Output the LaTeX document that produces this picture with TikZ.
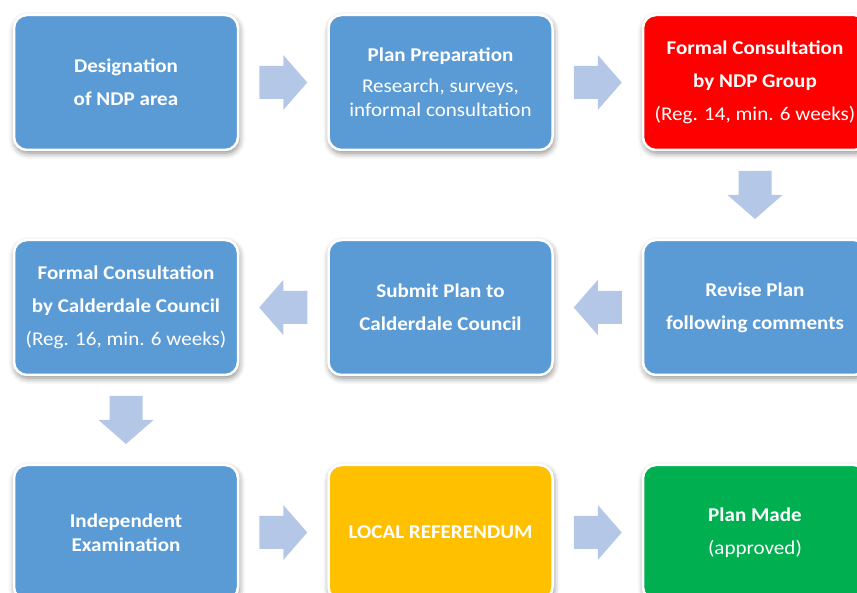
\documentclass[tikz,border=0pt]{standalone}
\usepackage{fontspec}
\setmainfont{Carlito}[FakeStretch=1.08]
\usetikzlibrary{calc,shadows.blur}
\definecolor{stageblue}{HTML}{5B9BD5}
\definecolor{stagered}{HTML}{FF0000}
\definecolor{stagegold}{HTML}{FFC000}
\definecolor{stagegreen}{HTML}{00B050}
\definecolor{arrowblue}{HTML}{B4C7E7}
\tikzset{stage/.style={rectangle, rounded corners=13pt, draw=white, line width=2.5pt,
    fill=stageblue, text=white, minimum width=224pt, minimum height=135pt, align=center,
    font=\fontsize{19.5}{24}\selectfont\bfseries,
    blur shadow={shadow xshift=1pt, shadow yshift=-3pt, shadow blur radius=6pt, shadow opacity=50}}}
\tikzset{flowarrow/.pic={
    \fill[arrowblue] (-24pt,-16.5pt) -- (0pt,-16.5pt) -- (0pt,-27.5pt) -- (24pt,0pt)
      -- (0pt,27.5pt) -- (0pt,16.5pt) -- (-24pt,16.5pt) -- cycle;}}

\begin{document}
\begin{tikzpicture}
\useasboundingbox (0,0) rectangle (857pt,593pt);
% first row
\node[stage] (S1) at (126pt,510.5pt) {Designation\\[9pt]of NDP area};
\node[stage] (S2) at (440.5pt,510.5pt) {Plan Preparation\\[7pt]\mdseries Research, surveys,\\\mdseries informal consultation};
\node[stage, fill=stagered] (S3) at (755pt,510.5pt) {Formal Consultation\\[9pt]by NDP Group\\[9pt]\mdseries (Reg. 14, min. 6 weeks)};
% second row
\node[stage] (S4) at (755pt,285.5pt) {Revise Plan\\[9pt]following comments};
\node[stage] (S5) at (440.5pt,285.5pt) {Submit Plan to\\[9pt]Calderdale Council};
\node[stage] (S6) at (126pt,285.5pt) {Formal Consultation\\[9pt]by Calderdale Council\\[9pt]\mdseries (Reg. 16, min. 6 weeks)};
% third row
\node[stage] (S7) at (126pt,60.5pt) {Independent\\Examination};
\node[stage, fill=stagegold] (S8) at (440.5pt,60.5pt) {LOCAL REFERENDUM};
\node[stage, fill=stagegreen] (S9) at (755pt,60.5pt) {Plan Made\\[9pt]\mdseries (approved)};
% arrows
\pic at ($(S1.east)!0.5!(S2.west)$) {flowarrow};
\pic at ($(S2.east)!0.5!(S3.west)$) {flowarrow};
\pic[rotate=-90] at ($(S3.south)!0.5!(S4.north)$) {flowarrow};
\pic[rotate=180] at ($(S4.west)!0.5!(S5.east)$) {flowarrow};
\pic[rotate=180] at ($(S5.west)!0.5!(S6.east)$) {flowarrow};
\pic[rotate=-90] at ($(S6.south)!0.5!(S7.north)$) {flowarrow};
\pic at ($(S7.east)!0.5!(S8.west)$) {flowarrow};
\pic at ($(S8.east)!0.5!(S9.west)$) {flowarrow};
\end{tikzpicture}
\end{document}
